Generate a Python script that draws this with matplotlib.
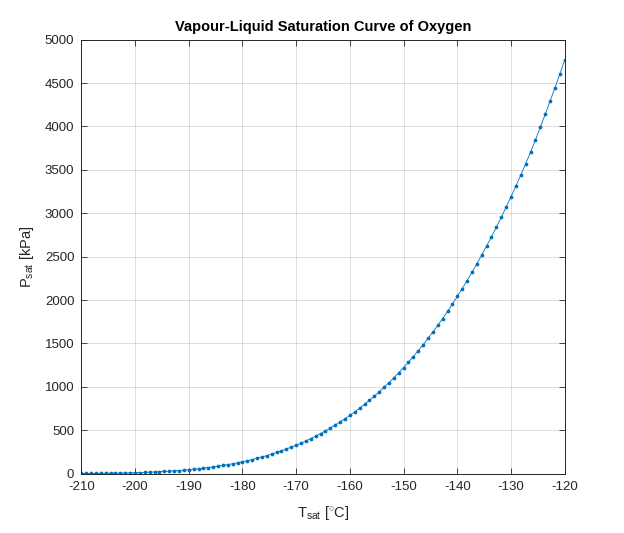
import matplotlib
matplotlib.use('Agg')
import matplotlib.pyplot as plt

plt.rcParams['font.family'] = ['Liberation Sans', 'DejaVu Sans']
plt.rcParams['mathtext.fontset'] = 'custom'
plt.rcParams['mathtext.rm'] = 'Liberation Sans'
plt.rcParams['mathtext.it'] = 'Liberation Sans:italic'
plt.rcParams['axes.unicode_minus'] = False

# saturation temperature [C]
t_sat = [-210.00, -209.09, -208.18, -207.27, -206.36, -205.45, -204.55, -203.64, -202.73, -201.82, -200.91,
         -200.00, -199.09, -198.18, -197.27, -196.36, -195.45, -194.55, -193.64, -192.73, -191.82, -190.91,
         -190.00, -189.09, -188.18, -187.27, -186.36, -185.45, -184.55, -183.64, -182.73, -181.82, -180.91,
         -180.00, -179.09, -178.18, -177.27, -176.36, -175.45, -174.55, -173.64, -172.73, -171.82, -170.91,
         -170.00, -169.09, -168.18, -167.27, -166.36, -165.45, -164.55, -163.64, -162.73, -161.82, -160.91,
         -160.00, -159.09, -158.18, -157.27, -156.36, -155.45, -154.55, -153.64, -152.73, -151.82, -150.91,
         -150.00, -149.09, -148.18, -147.27, -146.36, -145.45, -144.55, -143.64, -142.73, -141.82, -140.91,
         -140.00, -139.09, -138.18, -137.27, -136.36, -135.45, -134.55, -133.64, -132.73, -131.82, -130.91,
         -130.00, -129.09, -128.18, -127.27, -126.36, -125.45, -124.55, -123.64, -122.73, -121.82, -120.91,
         -120.00]

# saturation pressure [kPa]
p_sat = [1.54, 1.89, 2.31, 2.80, 3.38, 4.05, 4.83, 5.74, 6.77, 7.93, 9.25,
         10.75, 12.48, 14.42, 16.60, 19.04, 21.77, 24.82, 28.19, 31.89, 35.93, 40.37,
         45.23, 50.61, 56.48, 62.88, 69.85, 77.40, 85.60, 94.45, 103.95, 114.05, 124.86,
         136.5, 149.0, 162.5, 176.8, 192.0, 208.3, 225.6, 243.9, 263.2, 283.6, 305.2,
         327.9, 352.0, 377.4, 404.1, 432.2, 461.8, 492.8, 525.2, 559.3, 594.8, 631.9,
         670.8, 711.4, 753.9, 798.1, 844.1, 892.1, 942.1, 993.8, 1047.6, 1103.6, 1161.7,
         1221.8, 1284.4, 1349.2, 1416.2, 1485.6, 1557.3, 1631.3, 1707.6, 1786.7, 1868.9, 1953.5,
         2040.9, 2131.1, 2224.0, 2319.5, 2417.6, 2518.6, 2622.5, 2729.1, 2838.6, 2950.7, 3071.0,
         3190.0, 3313.0, 3440.0, 3570.0, 3705.0, 3845.0, 3990.0, 4138.0, 4290.0, 4445.0, 4603.0,
         4765.0]

fig = plt.figure(figsize=(6.24, 5.33), dpi=100)
ax = fig.add_axes([0.1303, 0.1114, 0.7747, 0.8143])

ax.plot(t_sat, p_sat, color='#0072BD', linewidth=0.6, marker='.', markersize=3.4)

ax.set_xlim(-210, -120)
ax.set_ylim(0, 5000)
ax.set_xticks(range(-210, -119, 10))
ax.set_yticks(range(0, 5001, 500))

ax.grid(True, color='#000000', alpha=0.15, linewidth=0.6)
ax.set_axisbelow(True)
ax.tick_params(direction='in', top=True, right=True, length=4, width=0.6,
               labelsize=9.5, colors='#262626', pad=5)
for s in ax.spines.values():
    s.set_color('#262626')
    s.set_linewidth(0.7)

ax.set_title('Vapour-Liquid Saturation Curve of Oxygen', fontsize=10.5, fontweight='bold', pad=6)
ax.set_xlabel(r'T$_{\rm sat}$ [$^{\circ}$C]', fontsize=10.5, color='#262626', labelpad=8)
ax.set_ylabel(r'P$_{\rm sat}$ [kPa]', fontsize=10.5, color='#262626', labelpad=6)

fig.savefig('out.png', dpi=100)
